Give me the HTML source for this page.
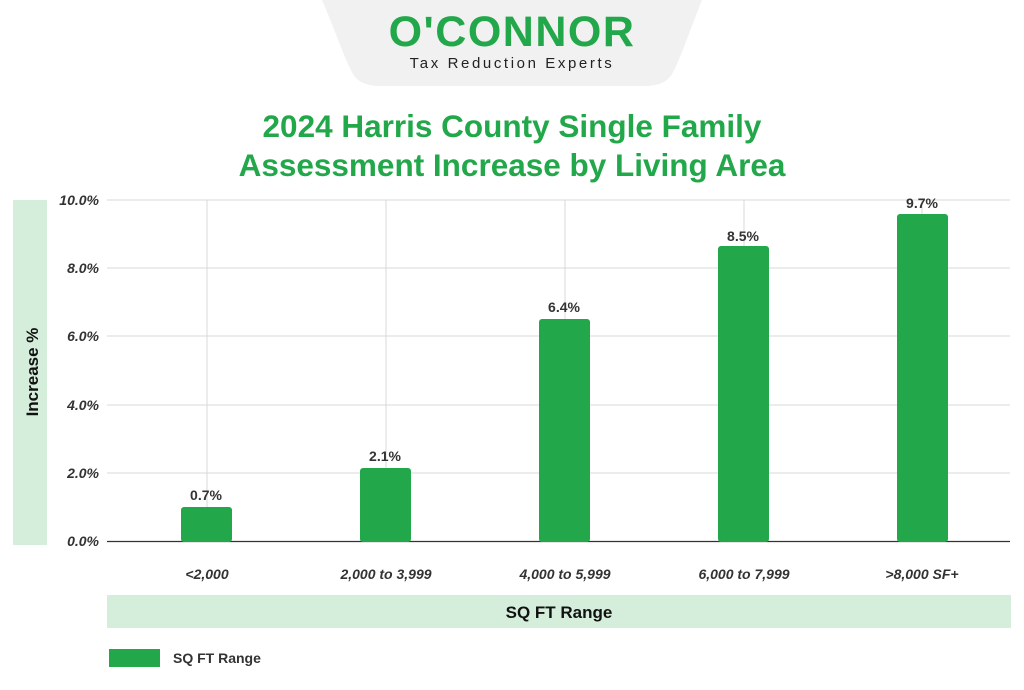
<!DOCTYPE html>
<html><head><meta charset="utf-8"><style>
body{margin:0;background:#fff;font-family:"Liberation Sans",sans-serif;}
</style></head><body>
<svg width="1024" height="685" xmlns="http://www.w3.org/2000/svg" font-family="Liberation Sans, sans-serif">
<path d="M322 0 L702 0 C690 30 680 60 672 74 Q665 86 645 86 L380 86 Q360 86 353 74 C345 60 335 30 322 0 Z" fill="#f1f1f1"/>
<text x="512" y="46" text-anchor="middle" font-size="43" font-weight="bold" fill="#22a84a" letter-spacing="1.5">O'CONNOR</text>
<text x="512" y="68" text-anchor="middle" font-size="15" fill="#222" letter-spacing="2.6">Tax Reduction Experts</text>
<text x="512" y="137" text-anchor="middle" font-size="31.5" font-weight="bold" fill="#22a84a">2024 Harris County Single Family</text>
<text x="512" y="176" text-anchor="middle" font-size="31.5" font-weight="bold" fill="#22a84a">Assessment Increase by Living Area</text>
<rect x="13" y="200" width="34" height="345" fill="#d5eedb"/>
<text transform="translate(38,372) rotate(-90)" text-anchor="middle" font-size="17" font-weight="bold" fill="#111">Increase %</text>
<g stroke="#d9d9d9" stroke-width="1">
<line x1="107" y1="200" x2="1010" y2="200"/><line x1="107" y1="268" x2="1010" y2="268"/>
<line x1="107" y1="336" x2="1010" y2="336"/><line x1="107" y1="405" x2="1010" y2="405"/>
<line x1="107" y1="473" x2="1010" y2="473"/>
<line x1="207" y1="200" x2="207" y2="541"/><line x1="386" y1="200" x2="386" y2="541"/>
<line x1="565" y1="200" x2="565" y2="541"/><line x1="744" y1="200" x2="744" y2="541"/>
<line x1="922" y1="200" x2="922" y2="541"/>
</g>
<line x1="107" y1="541.5" x2="1010" y2="541.5" stroke="#333" stroke-width="1.2"/>
<g font-size="14" font-weight="bold" font-style="italic" fill="#333" text-anchor="end">
<text x="99" y="205">10.0%</text><text x="99" y="273">8.0%</text><text x="99" y="341">6.0%</text>
<text x="99" y="410">4.0%</text><text x="99" y="478">2.0%</text><text x="99" y="546">0.0%</text>
</g>
<g fill="#22a84a">
<rect x="181" y="507" width="51" height="35" rx="3"/>
<rect x="360" y="468" width="51" height="74" rx="3"/>
<rect x="539" y="319" width="51" height="223" rx="3"/>
<rect x="718" y="246" width="51" height="296" rx="3"/>
<rect x="897" y="214" width="51" height="328" rx="3"/>
</g>
<g font-size="14" font-weight="bold" fill="#333" text-anchor="middle">
<text x="206" y="500">0.7%</text><text x="385" y="461">2.1%</text><text x="564" y="312">6.4%</text>
<text x="743" y="241">8.5%</text><text x="922" y="208">9.7%</text>
</g>
<g font-size="14" font-weight="bold" font-style="italic" fill="#333" text-anchor="middle">
<text x="207" y="579">&lt;2,000</text><text x="386" y="579">2,000 to 3,999</text><text x="565" y="579">4,000 to 5,999</text>
<text x="744" y="579">6,000 to 7,999</text><text x="922" y="579">&gt;8,000 SF+</text>
</g>
<rect x="107" y="595" width="904" height="33" fill="#d5eedb"/>
<text x="559" y="618" text-anchor="middle" font-size="17" font-weight="bold" fill="#111">SQ FT Range</text>
<rect x="109" y="649" width="51" height="18" fill="#22a84a"/>
<text x="173" y="663" font-size="14" font-weight="bold" fill="#333">SQ FT Range</text>
</svg>
</body></html>
